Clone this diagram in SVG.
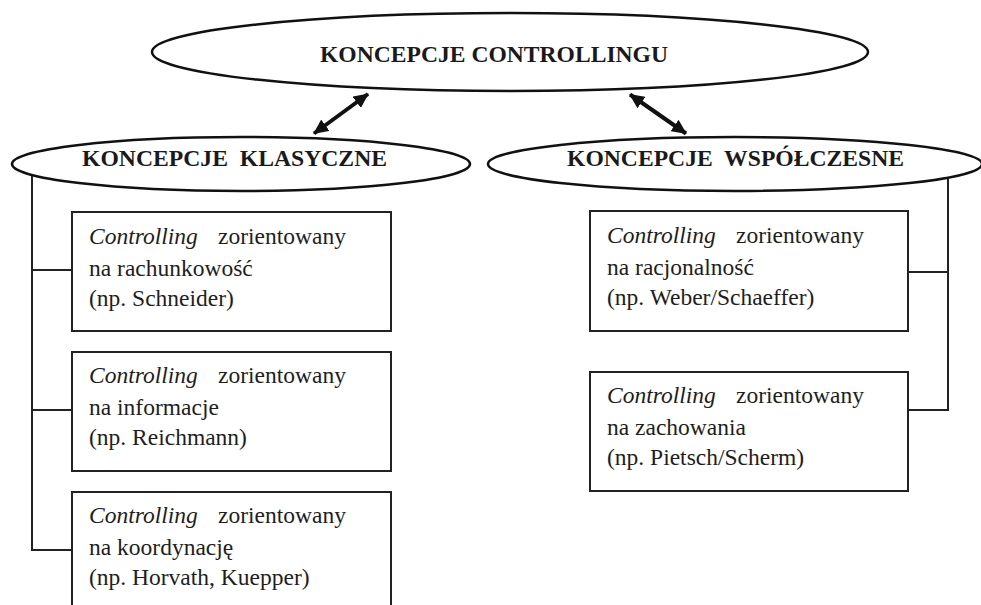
<svg xmlns="http://www.w3.org/2000/svg" width="981" height="605" viewBox="0 0 981 605">
<defs>
<style>
.ell{fill:#fff;stroke:#111;stroke-width:2.5}
.box{fill:#fff;stroke:#222;stroke-width:2}
.conn{fill:none;stroke:#222;stroke-width:2}
.arrow{fill:none;stroke:#111;stroke-width:4}
.h{font-family:"Liberation Serif","Times New Roman",serif;font-weight:bold;font-size:23px;fill:#1a1a1a}
.t{font-family:"Liberation Serif","Times New Roman",serif;font-size:23.5px;fill:#1e1e1e}
.i{font-style:italic}
</style>
<marker id="ah" viewBox="0 0 15 14" refX="14" refY="7" markerWidth="15" markerHeight="14" markerUnits="userSpaceOnUse" orient="auto-start-reverse">
<path d="M0,0 L15,7 L0,14 z" fill="#111"/>
</marker>
</defs>
<rect width="981" height="605" fill="#fff"/>
<g id="connectors">
<line class="arrow" x1="368" y1="94" x2="314" y2="133.5" marker-start="url(#ah)" marker-end="url(#ah)"/>
<line class="arrow" x1="630" y1="94.5" x2="686" y2="133.5" marker-start="url(#ah)" marker-end="url(#ah)"/>
<polyline class="conn" points="32,172 32,550 72,550"/>
<line class="conn" x1="32" y1="270" x2="72" y2="270"/>
<line class="conn" x1="32" y1="410" x2="72" y2="410"/>
<polyline class="conn" points="948,172 948,410 908,410"/>
<line class="conn" x1="908" y1="272" x2="948" y2="272"/>
</g>
<g id="top">
<ellipse class="ell" cx="510" cy="52" rx="358" ry="39"/>
<text class="h" x="320" y="62" textLength="348" lengthAdjust="spacingAndGlyphs">KONCEPCJE CONTROLLINGU</text>
</g>
<g id="klasyczne">
<ellipse class="ell" cx="241" cy="164" rx="229" ry="27"/>
<text class="h" x="82" y="166" textLength="305" lengthAdjust="spacingAndGlyphs" xml:space="preserve">KONCEPCJE  KLASYCZNE</text>
</g>
<g id="wspolczesne">
<ellipse class="ell" cx="735" cy="164" rx="247" ry="27"/>
<text class="h" x="567" y="166" textLength="337" lengthAdjust="spacingAndGlyphs" xml:space="preserve">KONCEPCJE  WSPÓŁCZESNE</text>
</g>
<g id="box-rachunkowosc">
<rect class="box" x="72" y="212" width="319" height="119"/>
<text class="t" x="89" y="244"><tspan class="i">Controlling</tspan></text>
<text class="t" x="218" y="244">zorientowany</text>
<text class="t" x="89" y="275.5">na rachunkowość</text>
<text class="t" x="89" y="306">(np. Schneider)</text>
</g>
<g id="box-informacje">
<rect class="box" x="72" y="352" width="319" height="119"/>
<text class="t" x="89" y="383"><tspan class="i">Controlling</tspan></text>
<text class="t" x="218" y="383">zorientowany</text>
<text class="t" x="89" y="415">na informacje</text>
<text class="t" x="89" y="445">(np. Reichmann)</text>
</g>
<g id="box-koordynacje">
<rect class="box" x="72" y="492" width="319" height="130"/>
<text class="t" x="89" y="523"><tspan class="i">Controlling</tspan></text>
<text class="t" x="218" y="523">zorientowany</text>
<text class="t" x="89" y="555">na koordynację</text>
<text class="t" x="89" y="585">(np. Horvath, Kuepper)</text>
</g>
<g id="box-racjonalnosc">
<rect class="box" x="590" y="211" width="318" height="120"/>
<text class="t" x="607" y="243"><tspan class="i">Controlling</tspan></text>
<text class="t" x="736" y="243">zorientowany</text>
<text class="t" x="607" y="275">na racjonalność</text>
<text class="t" x="607" y="305">(np. Weber/Schaeffer)</text>
</g>
<g id="box-zachowania">
<rect class="box" x="590" y="372" width="318" height="119"/>
<text class="t" x="607" y="403"><tspan class="i">Controlling</tspan></text>
<text class="t" x="736" y="403">zorientowany</text>
<text class="t" x="607" y="435">na zachowania</text>
<text class="t" x="607" y="465">(np. Pietsch/Scherm)</text>
</g>
</svg>
